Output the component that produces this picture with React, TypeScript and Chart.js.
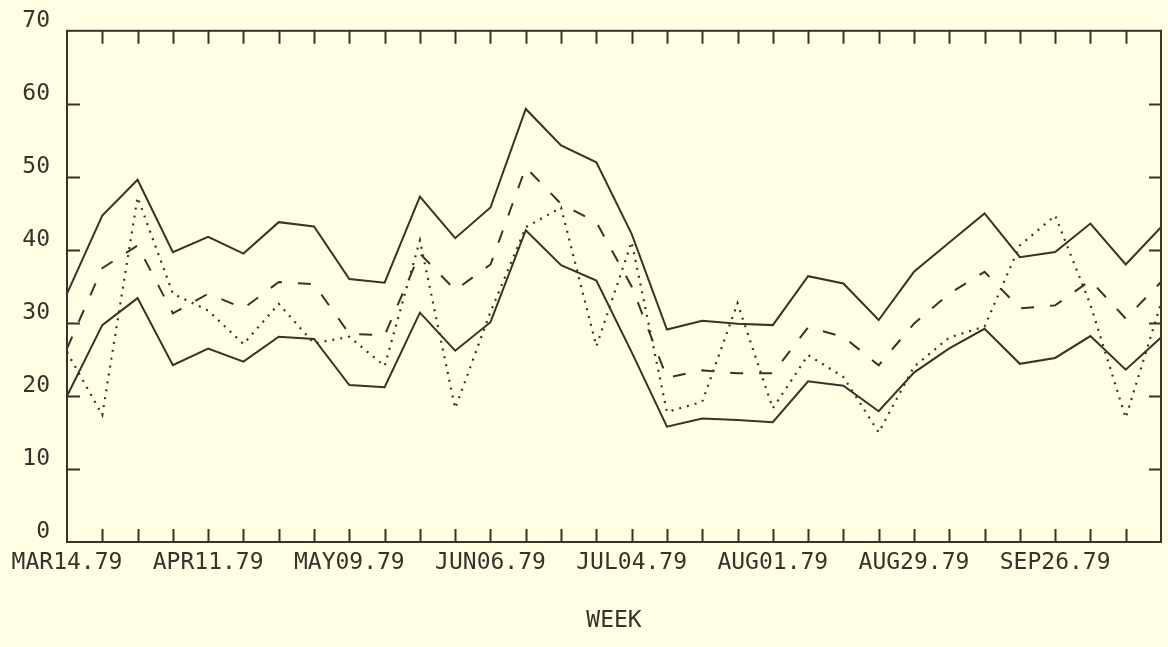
import { useEffect, useRef } from "react";
import { Chart, registerables } from "chart.js";

Chart.register(...registerables);

// Weekly categories (every 4th one is labelled on the axis)
const weeks = [
  "MAR14.79", "MAR21.79", "MAR28.79", "APR04.79", "APR11.79", "APR18.79", "APR25.79", "MAY02.79",
  "MAY09.79", "MAY16.79", "MAY23.79", "MAY30.79", "JUN06.79", "JUN13.79", "JUN20.79", "JUN27.79",
  "JUL04.79", "JUL11.79", "JUL18.79", "JUL25.79", "AUG01.79", "AUG08.79", "AUG15.79", "AUG22.79",
  "AUG29.79", "SEP05.79", "SEP12.79", "SEP19.79", "SEP26.79", "OCT03.79", "OCT10.79", "OCT17.79",
];
const labelledWeeks = ["MAR14.79", "APR11.79", "MAY09.79", "JUN06.79", "JUL04.79", "AUG01.79", "AUG29.79", "SEP26.79"];

// Series values
const upperSolid = [
  34.0, 44.7, 49.6, 39.7, 41.8, 39.5, 43.8, 43.2, 36.0, 35.5, 47.3, 41.6, 45.8, 59.3, 54.3, 52.0,
  42.2, 29.1, 30.3, 29.9, 29.7, 36.4, 35.4, 30.4, 37.0, 41.0, 45.0, 39.0, 39.7, 43.6, 38.0, 43.1,
];
const dashedSeries = [
  26.5, 37.5, 40.6, 31.3, 34.0, 32.0, 35.6, 35.3, 28.5, 28.3, 39.5, 34.5, 38.0, 51.3, 46.3, 43.8,
  35.0, 22.5, 23.5, 23.1, 23.1, 29.4, 28.1, 24.2, 29.9, 34.0, 37.0, 32.0, 32.4, 35.8, 30.6, 35.6,
];
const dottedSeries = [
  26.0, 17.4, 47.2, 34.0, 31.7, 27.1, 32.6, 27.2, 28.1, 24.1, 41.3, 18.3, 31.5, 43.1, 45.8, 26.8,
  41.1, 17.8, 19.2, 32.7, 18.3, 25.6, 22.6, 15.0, 24.0, 28.0, 29.5, 40.6, 44.7, 32.5, 17.0, 32.7,
];
const lowerSolid = [
  20.0, 29.7, 33.4, 24.2, 26.5, 24.7, 28.1, 27.8, 21.5, 21.2, 31.4, 26.2, 30.1, 42.7, 37.9, 35.8,
  26.0, 15.8, 16.9, 16.7, 16.4, 22.0, 21.4, 17.9, 23.2, 26.5, 29.2, 24.4, 25.2, 28.2, 23.6, 28.0,
];

const yMin = 0;
const yMax = 70;
const yStep = 10;
const xTitle = "WEEK";

const BG = "#fffde4";
const INK = "#34342a";
const FONT = "'DejaVu Sans Mono', monospace";

const framePlugin = {
  id: "frame",
  beforeDraw(chart: any) {
    const { ctx, width, height } = chart;
    ctx.save();
    ctx.fillStyle = BG;
    ctx.fillRect(0, 0, width, height);
    ctx.restore();
  },
  afterDatasetsDraw(chart: any) {
    const { ctx, chartArea, scales } = chart;
    const { left, right, top, bottom } = chartArea;
    const x = scales.x;
    const y = scales.y;
    ctx.save();
    ctx.strokeStyle = INK;
    ctx.lineWidth = 2;
    ctx.strokeRect(left, top, right - left, bottom - top);
    ctx.beginPath();
    for (let i = 1; i < weeks.length - 1; i++) {
      const px = Math.round(x.getPixelForValue(i)) + 0.5;
      ctx.moveTo(px, bottom);
      ctx.lineTo(px, bottom - 13);
      ctx.moveTo(px, top);
      ctx.lineTo(px, top + 13);
    }
    y.ticks.forEach((t: any) => {
      if (t.value <= yMin || t.value >= yMax) return;
      const py = Math.round(y.getPixelForValue(t.value)) + 0.5;
      ctx.moveTo(left, py);
      ctx.lineTo(left + 13, py);
      ctx.moveTo(right, py);
      ctx.lineTo(right - 12, py);
    });
    ctx.stroke();
    ctx.restore();
  },
};

export default function App() {
  const canvasRef = useRef<HTMLCanvasElement | null>(null);

  useEffect(() => {
    const canvas = canvasRef.current;
    if (!canvas) return;
    const lineBase = {
      borderColor: INK,
      pointRadius: 0,
      tension: 0,
      fill: false,
    };
    const chart = new Chart(canvas, {
      type: "line",
      data: {
        labels: weeks,
        datasets: [
          { ...lineBase, label: "upper", data: upperSolid, borderWidth: 2 },
          { ...lineBase, label: "dashed", data: dashedSeries, borderWidth: 2, borderDash: [13, 16] },
          { ...lineBase, label: "dotted", data: dottedSeries, borderWidth: 2.2, borderDash: [2, 6] },
          { ...lineBase, label: "lower", data: lowerSolid, borderWidth: 2 },
        ],
      },
      options: {
        animation: false,
        responsive: false,
        maintainAspectRatio: false,
        layout: { padding: { top: 30, right: 2, left: 0, bottom: 0 } },
        plugins: {
          legend: { display: false },
          tooltip: { enabled: false },
        },
        scales: {
          x: {
            type: "category",
            offset: false,
            grid: { display: false, drawTicks: false },
            border: { display: false },
            ticks: {
              autoSkip: false,
              maxRotation: 0,
              minRotation: 0,
              padding: 7,
              color: INK,
              font: { family: FONT, size: 23 },
              callback: (_v: any, i: number) => (labelledWeeks.includes(weeks[i]) ? weeks[i] : ""),
            },
            title: {
              display: true,
              text: xTitle,
              color: INK,
              font: { family: FONT, size: 23 },
              padding: { top: 0, bottom: 12 },
            },
            afterFit: (scale: any) => {
              scale.height = 105;
            },
          },
          y: {
            min: yMin,
            max: yMax,
            grid: { display: false, drawTicks: false },
            border: { display: false },
            ticks: {
              stepSize: yStep,
              padding: 17,
              labelOffset: -10,
              color: INK,
              font: { family: FONT, size: 23 },
            },
            afterFit: (scale: any) => {
              scale.width = 67;
            },
          },
        },
      },
      plugins: [framePlugin],
    });
    return () => chart.destroy();
  }, []);

  return (
    <div style={{ position: "fixed", left: 0, top: 0, width: 1168, height: 647, background: BG }}>
      <canvas ref={canvasRef} width={1168} height={647} style={{ display: "block" }} />
    </div>
  );
}
